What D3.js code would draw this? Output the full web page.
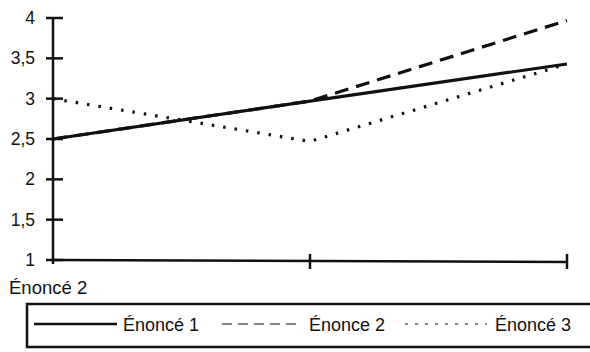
<!DOCTYPE html>
<html><head><meta charset="utf-8">
<script src="https://cdn.jsdelivr.net/npm/d3@7"></script>
<style>body{margin:0;background:#fff}svg{display:block}text{font-family:"Liberation Sans",Arial,sans-serif;fill:#111}</style>
</head><body>
<script>
const categories = ["A", "B", "C"];
const enonce1 = [2.5, 2.97, 3.43];
const enonce2 = [2.5, 2.97, 3.97];
const enonce3 = [3.0, 2.47, 3.43];
const yTicks = [1, 1.5, 2, 2.5, 3, 3.5, 4];
const seriesNames = ["Énoncé 1", "Énonce 2", "Énoncé 3"];
const axisTitle = "Énoncé 2";

const W = 590, H = 352;
const svg = d3.select("body").append("svg").attr("width", W).attr("height", H);
const x = d3.scalePoint().domain(categories).range([53, 567]);
const y = d3.scaleLinear().domain([1, 4]).range([260, 18]);
const ink = "#111";

// y axis
svg.append("line").attr("x1", 53).attr("x2", 53).attr("y1", y(4)).attr("y2", y(1) + 4)
  .attr("stroke", ink).attr("stroke-width", 2.5);
yTicks.forEach(t => {
  svg.append("line").attr("x1", 46).attr("x2", 63).attr("y1", y(t)).attr("y2", y(t))
    .attr("stroke", ink).attr("stroke-width", 2.5);
  svg.append("text").attr("x", 35).attr("y", y(t) + 6).attr("text-anchor", "end")
    .attr("font-size", 17.5).text(String(t).replace(".", ","));
});
// x axis
svg.append("line").attr("x1", 53).attr("x2", 567).attr("y1", y(1)).attr("y2", y(1) + 2)
  .attr("stroke", ink).attr("stroke-width", 2.5);
categories.slice(1).forEach(c => {
  svg.append("line").attr("x1", x(c)).attr("x2", x(c)).attr("y1", y(1) - 6).attr("y2", y(1) + 9)
    .attr("stroke", ink).attr("stroke-width", 2.5);
});
svg.append("text").attr("x", 9).attr("y", 294).attr("font-size", 18.5).text(axisTitle);

const line = d3.line().x((d, i) => x(categories[i])).y(d => y(d));
const styles = [
  {w: 3.2, dash: null},
  {w: 3.2, dash: "14,8"},
  {w: 3.2, dash: "2.5,9"}
];
[enonce3, enonce2, enonce1].forEach((s, k) => {
  const st = styles[2 - k];
  svg.append("path").attr("d", line(s)).attr("fill", "none").attr("stroke", ink)
    .attr("stroke-width", st.w).attr("stroke-dasharray", st.dash);
});

// legend
svg.append("path").attr("d", "M590,304 L27,304 L27,347 L590,347")
  .attr("fill", "none").attr("stroke", ink).attr("stroke-width", 2.5);
const legX = [{l: 34, r: 117, t: 123}, {l: 222, r: 302, t: 309}, {l: 405, r: 487, t: 495}];
const legStyles = [{w: 2.5, dash: null}, {w: 1.2, dash: "10,6"}, {w: 1.2, dash: "3,7"}];
seriesNames.forEach((n, i) => {
  svg.append("line").attr("x1", legX[i].l).attr("x2", legX[i].r).attr("y1", 324).attr("y2", 324)
    .attr("stroke", ink).attr("stroke-width", legStyles[i].w).attr("stroke-dasharray", legStyles[i].dash);
  svg.append("text").attr("x", legX[i].t).attr("y", 331).attr("font-size", 18).text(n);
});
</script>
</body></html>
